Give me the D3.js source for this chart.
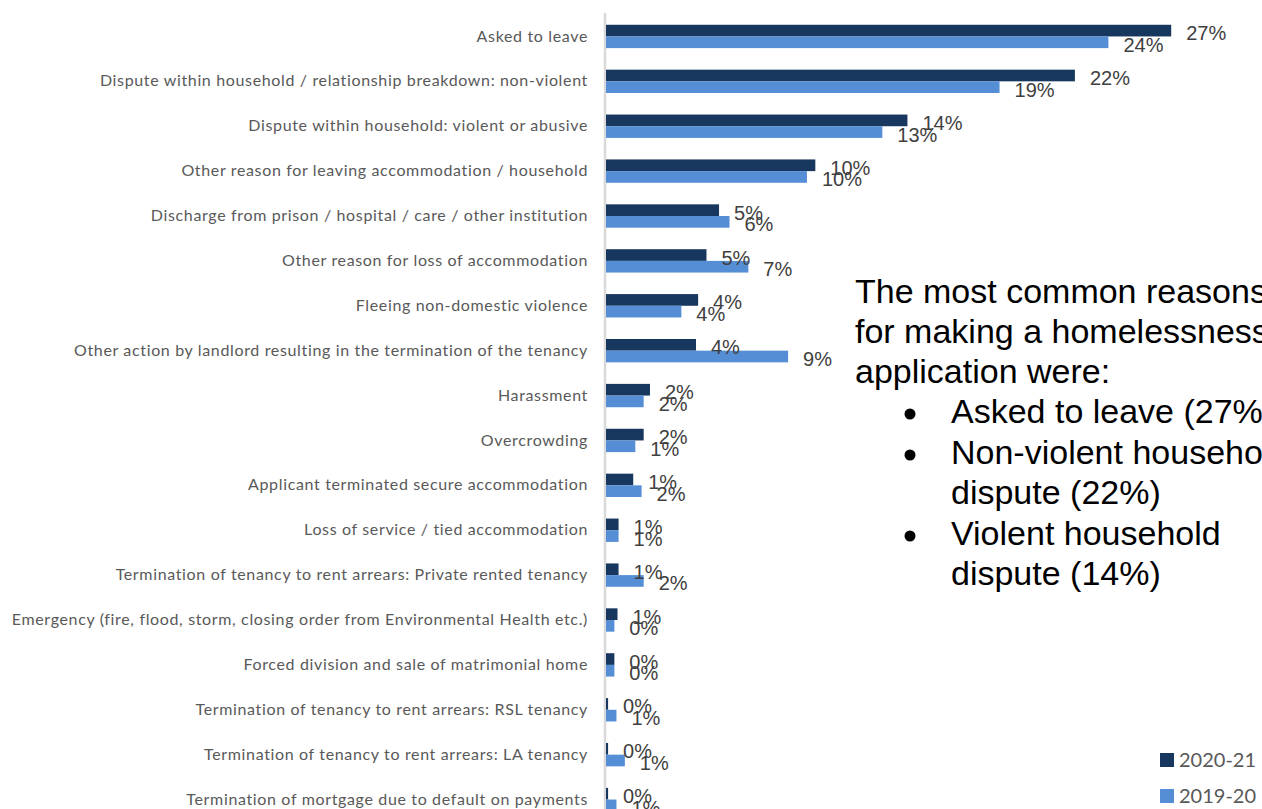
<!DOCTYPE html>
<html>
<head>
<meta charset="utf-8">
<script src="https://cdn.jsdelivr.net/npm/d3@7"></script>
<style>
  html, body { margin: 0; padding: 0; background: #ffffff; }
  svg { display: block; }
</style>
</head>
<body>
<svg id="chart" width="1262" height="809"></svg>
<script>
// Reasons for making a homelessness application (share of applications)
const categories = [
  "Asked to leave",
  "Dispute within household / relationship breakdown: non-violent",
  "Dispute within household: violent or abusive",
  "Other reason for leaving accommodation / household",
  "Discharge from prison / hospital / care / other institution",
  "Other reason for loss of accommodation",
  "Fleeing non-domestic violence",
  "Other action by landlord resulting in the termination of the tenancy",
  "Harassment",
  "Overcrowding",
  "Applicant terminated secure accommodation",
  "Loss of service / tied accommodation",
  "Termination of tenancy to rent arrears: Private rented tenancy",
  "Emergency (fire, flood, storm, closing order from Environmental Health etc.)",
  "Forced division and sale of matrimonial home",
  "Termination of tenancy to rent arrears: RSL tenancy",
  "Termination of tenancy to rent arrears: LA tenancy",
  "Termination of mortgage due to default on payments"
];

const seriesNames = ["2020-21", "2019-20"];

const values2020 = [27.0, 22.4, 14.4, 10.0, 5.4, 4.8, 4.4, 4.3, 2.1, 1.8, 1.3, 0.6, 0.6, 0.55, 0.4, 0.1, 0.1, 0.1];
const values2019 = [24.0, 18.8, 13.2, 9.6, 5.9, 6.8, 3.6, 8.7, 1.8, 1.4, 1.7, 0.6, 1.8, 0.4, 0.4, 0.5, 0.9, 0.5];

const summaryIntro = ["The most common reasons", "for making a homelessness", "application were:"];
const summaryBullets = [
  ["Asked to leave (27%)"],
  ["Non-violent household", "dispute (22%)"],
  ["Violent household", "dispute (14%)"]
];

const colors = { "2020-21": "#17375e", "2019-20": "#558ed5" };

const rows = categories.map((c, i) => ({
  category: c,
  values: [
    { series: "2020-21", value: values2020[i] },
    { series: "2019-20", value: values2019[i] }
  ]
}));

const svg = d3.select("#chart");

const x = d3.scaleLinear().domain([0, 30]).range([606, 1234]);
const y0 = d3.scaleBand().domain(categories).range([14, 822])
  .paddingInner(0.48).paddingOuter(0.24);
const y1 = d3.scaleBand().domain(seriesNames).range([0, y0.bandwidth()]);

// Category axis on the left
const yAxis = d3.axisLeft(y0).tickSize(0).tickPadding(18);
const gAxis = svg.append("g")
  .attr("transform", `translate(${x(0)},0)`)
  .call(yAxis);
gAxis.select(".domain").remove();
gAxis.selectAll("text")
  .attr("fill", "#595959")
  .style("font-family", "Lato, 'Open Sans', sans-serif")
  .style("font-size", "16px")
  .style("letter-spacing", "0.65px");

// Vertical baseline
svg.append("line")
  .attr("x1", x(0) - 1).attr("x2", x(0) - 1)
  .attr("y1", 13).attr("y2", 809)
  .attr("stroke", "#d9d9d9").attr("stroke-width", 2.5);

// Bars
const groups = svg.append("g").selectAll("g")
  .data(rows).join("g")
  .attr("transform", d => `translate(0,${y0(d.category)})`);

groups.selectAll("rect")
  .data(d => d.values).join("rect")
  .attr("x", x(0))
  .attr("y", d => y1(d.series))
  .attr("width", d => x(d.value) - x(0))
  .attr("height", y1.bandwidth())
  .attr("fill", d => colors[d.series]);

// Value labels
groups.selectAll("text.val")
  .data(d => d.values).join("text")
  .attr("class", "val")
  .attr("x", d => x(d.value) + 15)
  .attr("y", d => y1(d.series) + y1.bandwidth() / 2 + 9.5)
  .attr("fill", "#404040")
  .style("font-family", "'Liberation Sans', Arial, sans-serif")
  .style("font-size", "20px")
  .text(d => Math.round(d.value) + "%");

// Summary text box
const note = svg.append("g")
  .style("font-family", "'Liberation Sans', Arial, sans-serif")
  .style("font-size", "34px")
  .attr("fill", "#000000");

const introBaselines = [303, 343, 383];
summaryIntro.forEach((line, i) => {
  note.append("text").attr("x", 855).attr("y", introBaselines[i]).text(line);
});

const bulletBaselines = [[423], [464, 504], [545, 585]];
summaryBullets.forEach((lines, b) => {
  note.append("circle")
    .attr("cx", 910).attr("cy", bulletBaselines[b][0] - 9).attr("r", 5.5)
    .attr("fill", "#000000");
  lines.forEach((line, j) => {
    note.append("text").attr("x", 951).attr("y", bulletBaselines[b][j]).text(line);
  });
});

// Legend
const legend = svg.append("g").selectAll("g")
  .data(seriesNames).join("g")
  .attr("transform", (d, i) => `translate(1160,${753 + i * 36})`);
legend.append("rect")
  .attr("width", 14).attr("height", 14)
  .attr("fill", d => colors[d]);
legend.append("text")
  .attr("x", 19).attr("y", 7).attr("dy", "0.36em")
  .attr("fill", "#595959")
  .style("font-family", "Lato, 'Open Sans', sans-serif")
  .style("font-size", "20px")
  .text(d => d);
</script>
</body>
</html>
